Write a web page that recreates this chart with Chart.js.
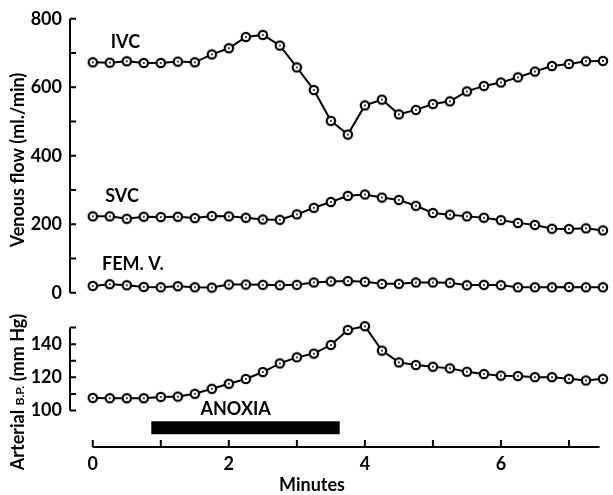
<!DOCTYPE html>
<html lang="en">
<head>
<meta charset="UTF-8">
<title>Venous flow and arterial pressure during anoxia</title>
<script src="https://cdn.jsdelivr.net/npm/chart.js"></script>
<style>
  html, body { margin: 0; padding: 0; background: #fff; }
  #wrap { width: 613px; height: 495px; position: relative; }
</style>
</head>
<body>
<div id="wrap"><canvas id="flowChart"></canvas></div>
<script>
// time of each reading (minutes)
const minutes = [0, 0.25, 0.5, 0.75, 1, 1.25, 1.5, 1.75, 2, 2.25, 2.5, 2.75, 3, 3.25, 3.5, 3.75,
                 4, 4.25, 4.5, 4.75, 5, 5.25, 5.5, 5.75, 6, 6.25, 6.5, 6.75, 7, 7.25, 7.5];

// venous flow, ml./min
const ivc = [673, 672, 676, 671, 671, 675, 673, 696, 714, 747, 753, 722, 658, 592, 502, 462,
             547, 564, 521, 534, 551, 559, 588, 604, 614, 629, 646, 662, 668, 676, 677];
const svc = [223, 223, 216, 222, 221, 222, 218, 224, 223, 219, 214, 213, 229, 248, 265, 283,
             287, 278, 271, 254, 233, 228, 223, 219, 212, 204, 198, 187, 186, 188, 182];
const femV = [20, 25, 22, 17, 16, 19, 16, 15, 24, 24, 23, 22, 23, 30, 33, 34,
              32, 26, 26, 30, 30, 29, 22, 23, 22, 16, 16, 16, 17, 16, 16];

// arterial blood pressure, mm Hg
const arterialBP = [107.6, 107.4, 107.4, 107.4, 108.2, 108.4, 110.1, 113.1, 116.1, 119, 123.2, 128.4, 132.1, 134.3, 139.5, 148.6,
                    150.8, 136.1, 129, 127.4, 126.4, 125.4, 123.4, 122, 121, 120.8, 120.1, 120.1, 119.1, 118.1, 119.1];

// anoxia period (minutes) and the level of the bar on the pressure scale
const anoxiaPeriod = [0.86, 3.63];
const anoxiaLevel = 89.6;

// ticks
const flowTicks = [0, 100, 200, 300, 400, 500, 600, 700, 800];
const flowLabels = [0, 200, 400, 600, 800];
const bpTicks = [100, 110, 120, 130, 140, 150];
const bpLabels = [100, 120, 140];
const minuteTicks = [0, 1, 2, 3, 4, 5, 6, 7];
const minuteLabels = [0, 2, 4, 6];

const FONT = 'Lato, "DejaVu Sans", sans-serif';

// open circle with a dot in the middle
function makeMarker() {
  const c = document.createElement('canvas');
  c.width = 12; c.height = 12;
  const g = c.getContext('2d');
  g.beginPath();
  g.arc(6, 6, 4.2, 0, Math.PI * 2);
  g.fillStyle = '#fff';
  g.fill();
  g.lineWidth = 2.2;
  g.strokeStyle = '#000';
  g.stroke();
  g.beginPath();
  g.arc(6, 6, 1, 0, Math.PI * 2);
  g.fillStyle = '#000';
  g.fill();
  return c;
}
const marker = makeMarker();

function series(values, axis) {
  return {
    data: minutes.map((m, i) => ({ x: m, y: values[i] })),
    yAxisID: axis,
    borderColor: '#000',
    borderWidth: 2,
    pointStyle: marker,
    pointRadius: 6,
    tension: 0,
    clip: false
  };
}

// axis lines with inward ticks
const axisFrame = {
  id: 'axisFrame',
  afterDraw(chart) {
    const ctx = chart.ctx;
    const { x, yFlow, yBP } = chart.scales;
    const left = chart.chartArea.left;
    const bottom = chart.chartArea.bottom;
    ctx.save();
    ctx.strokeStyle = '#000';
    ctx.lineWidth = 2;
    ctx.lineCap = 'butt';

    const vAxis = (scale, ticks, lo, hi) => {
      ctx.beginPath();
      ctx.moveTo(left, scale.getPixelForValue(lo));
      ctx.lineTo(left, scale.getPixelForValue(hi));
      ticks.forEach(t => {
        const py = scale.getPixelForValue(t);
        ctx.moveTo(left, py);
        ctx.lineTo(left + 6, py);
      });
      ctx.stroke();
    };
    vAxis(yFlow, flowTicks, 0, 800);
    vAxis(yBP, bpTicks, 100, 150);

    ctx.beginPath();
    ctx.moveTo(x.getPixelForValue(0), bottom);
    ctx.lineTo(x.getPixelForValue(7.45), bottom);
    minuteTicks.forEach(t => {
      const px = x.getPixelForValue(t);
      ctx.moveTo(px, bottom);
      ctx.lineTo(px, bottom - 7);
    });
    ctx.stroke();
    ctx.restore();
  }
};

// curve names, bar label and axis titles
const labels = {
  id: 'labels',
  afterDraw(chart) {
    const ctx = chart.ctx;
    const { x, yFlow, yBP } = chart.scales;
    ctx.save();
    ctx.fillStyle = '#000';
    ctx.textAlign = 'center';
    ctx.textBaseline = 'middle';
    ctx.font = 'bold 18px ' + FONT;
    ctx.fillText('IVC', x.getPixelForValue(0.48), yFlow.getPixelForValue(731));
    ctx.fillText('SVC', x.getPixelForValue(0.43), yFlow.getPixelForValue(283));
    ctx.fillText('FEM. V.', x.getPixelForValue(0.59), yFlow.getPixelForValue(84));
    ctx.fillText('ANOXIA', x.getPixelForValue(2.1), yBP.getPixelForValue(100.6));
    ctx.fillText('Minutes', 312, 485);

    ctx.save();
    ctx.translate(18, 160);
    ctx.rotate(-Math.PI / 2);
    ctx.fillText('Venous flow (ml./min)', 0, 0);
    ctx.restore();

    // "Arterial B.P. (mm Hg)" with small B.P.
    ctx.save();
    ctx.translate(18, 392);
    ctx.rotate(-Math.PI / 2);
    ctx.textAlign = 'left';
    ctx.textBaseline = 'alphabetic';
    const parts = [['Arterial ', 'bold 18px '], ['B.P.', 'bold 12px '], [' (mm Hg)', 'bold 18px ']];
    let total = 0;
    parts.forEach(p => { ctx.font = p[1] + FONT; total += ctx.measureText(p[0]).width; });
    let cx = -total / 2;
    parts.forEach(p => {
      ctx.font = p[1] + FONT;
      ctx.fillText(p[0], cx, 6);
      cx += ctx.measureText(p[0]).width;
    });
    ctx.restore();
    ctx.restore();
  }
};

const tickFont = { family: FONT, size: 18, weight: 'bold' };

new Chart(document.getElementById('flowChart'), {
  type: 'line',
  data: {
    datasets: [
      series(ivc, 'yFlow'),
      series(svc, 'yFlow'),
      series(femV, 'yFlow'),
      series(arterialBP, 'yBP'),
      {
        data: anoxiaPeriod.map(m => ({ x: m, y: anoxiaLevel })),
        yAxisID: 'yBP',
        borderColor: '#000',
        borderWidth: 13,
        borderCapStyle: 'butt',
        pointRadius: 0,
        clip: false
      }
    ]
  },
  options: {
    responsive: true,
    maintainAspectRatio: false,
    animation: false,
    devicePixelRatio: 1,
    layout: { padding: { top: 14, right: 0, left: 0, bottom: 0 } },
    plugins: { legend: { display: false }, tooltip: { enabled: false } },
    scales: {
      x: {
        type: 'linear',
        min: -0.335,
        max: 7.53,
        afterBuildTicks: s => { s.ticks = minuteTicks.map(v => ({ value: v })); },
        afterFit: s => { s.height = 48; },
        ticks: {
          autoSkip: false, maxRotation: 0, padding: 6, color: '#000', font: tickFont,
          callback: v => minuteLabels.includes(v) ? String(v) : ''
        },
        grid: { display: false, drawTicks: false },
        border: { display: false }
      },
      // stacked left axes are laid out in reverse order, so the lower panel comes first
      yBP: {
        type: 'linear',
        position: 'left',
        stack: 'left',
        stackWeight: 156,
        min: 78,
        max: 171,
        afterBuildTicks: s => { s.ticks = bpTicks.map(v => ({ value: v })); },
        afterFit: s => { s.width = 70; },
        ticks: {
          padding: 8, color: '#000', font: tickFont,
          callback: v => bpLabels.includes(v) ? String(v) : ''
        },
        grid: { display: false, drawTicks: false },
        border: { display: false }
      },
      yFlow: {
        type: 'linear',
        position: 'left',
        stack: 'left',
        stackWeight: 277,
        min: 0,
        max: 800,
        afterBuildTicks: s => { s.ticks = flowTicks.map(v => ({ value: v })); },
        afterFit: s => { s.width = 70; },
        ticks: {
          padding: 8, color: '#000', font: tickFont,
          callback: v => flowLabels.includes(v) ? String(v) : ''
        },
        grid: { display: false, drawTicks: false },
        border: { display: false }
      }
    }
  },
  plugins: [axisFrame, labels]
});
</script>
</body>
</html>
